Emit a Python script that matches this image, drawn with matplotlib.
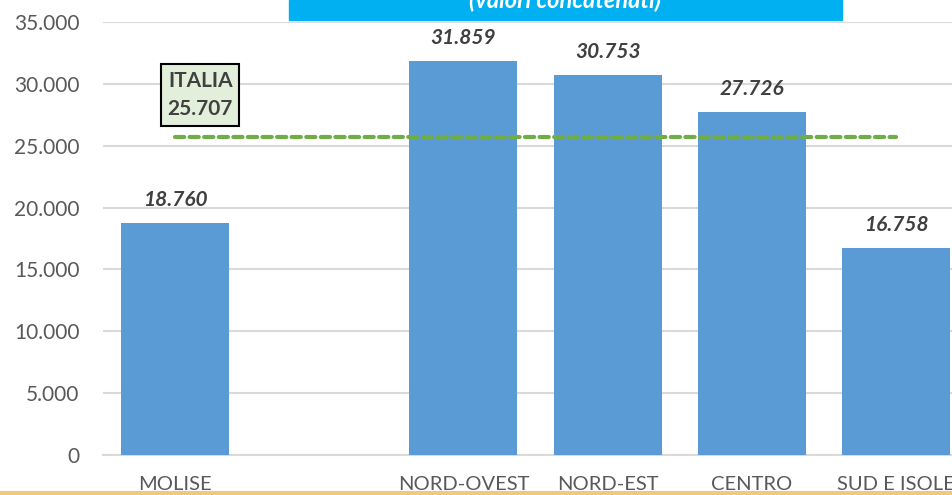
import numpy as np
import matplotlib.pyplot as plt
from matplotlib.patches import Rectangle
from matplotlib.lines import Line2D

plt.rcParams['font.family'] = ['Lato', 'DejaVu Sans']

categorie = ['MOLISE', '', 'NORD-OVEST', 'NORD-EST', 'CENTRO', 'SUD E ISOLE']
valori = [18760, np.nan, 31859, 30753, 27726, 16758]
etichette = ['18.760', '', '31.859', '30.753', '27.726', '16.758']
italia = 25707
yticks = [0, 5000, 10000, 15000, 20000, 25000, 30000, 35000]
ytick_labels = ['0', '5.000', '10.000', '15.000', '20.000', '25.000', '30.000', '35.000']

W, H = 953, 495
fig = plt.figure(figsize=(W / 100, H / 100), dpi=100)
ax = fig.add_axes([103 / W, 40 / H, 865 / W, 433 / H])

x = np.arange(len(categorie))
ax.bar(x, valori, width=0.75, color='#5B9BD5', zorder=3)

# valori sopra le barre
for xi, v, lab in zip(x, valori, etichette):
    if lab:
        ax.annotate(lab, (xi, v), xytext=(0, 9), textcoords='offset points',
                    ha='center', va='bottom', fontsize=15, fontweight='bold',
                    fontstyle='italic', color='#404040', zorder=5)

# linea media Italia
ax.plot([x[0], x[-1]], [italia, italia], color='#70AD47', lw=3,
        ls=(0, (2.2, 1.3)), dash_capstyle='round', zorder=4)
ax.text(0.175, 29100, 'ITALIA\n25.707', ha='center', va='center', fontsize=15,
        fontweight='bold', color='#404040', linespacing=1.55, zorder=6,
        bbox=dict(boxstyle='square,pad=0.3', fc='#E2EFDA', ec='black', lw=1.5))

ax.set_xlim(-0.5, 5.5)
ax.set_ylim(0, 35000)
ax.set_yticks(yticks)
ax.set_yticklabels(ytick_labels)
ax.set_xticks(x)
ax.set_xticklabels(categorie)
ax.grid(axis='y', color='#D9D9D9', lw=1.5, zorder=0)
ax.set_axisbelow(True)
for s in ['top', 'right', 'left']:
    ax.spines[s].set_visible(False)
ax.spines['bottom'].set_color('#D9D9D9')
ax.spines['bottom'].set_linewidth(1.5)
ax.tick_params(axis='both', length=0, colors='#595959')
ax.tick_params(axis='x', labelsize=14.5, pad=15)
ax.tick_params(axis='y', labelsize=15, pad=17)

# titolo tagliato in alto
fig.patches.append(Rectangle((289 / W, 1 - 20 / H), (842 - 289) / W, 20 / H,
                             transform=fig.transFigure, color='#00B0F0', zorder=1))
fig.text((289 + 842) / 2 / W, 1 - 8 / H, '(valori concatenati)', ha='center',
         va='baseline', fontsize=17, fontweight='bold', fontstyle='italic',
         color='white', zorder=2)

# linea inferiore
fig.lines.append(Line2D([0, 1], [2 / H, 2 / H], transform=fig.transFigure,
                        color='#F4C77E', lw=3))

fig.savefig('out.png', dpi=100)
